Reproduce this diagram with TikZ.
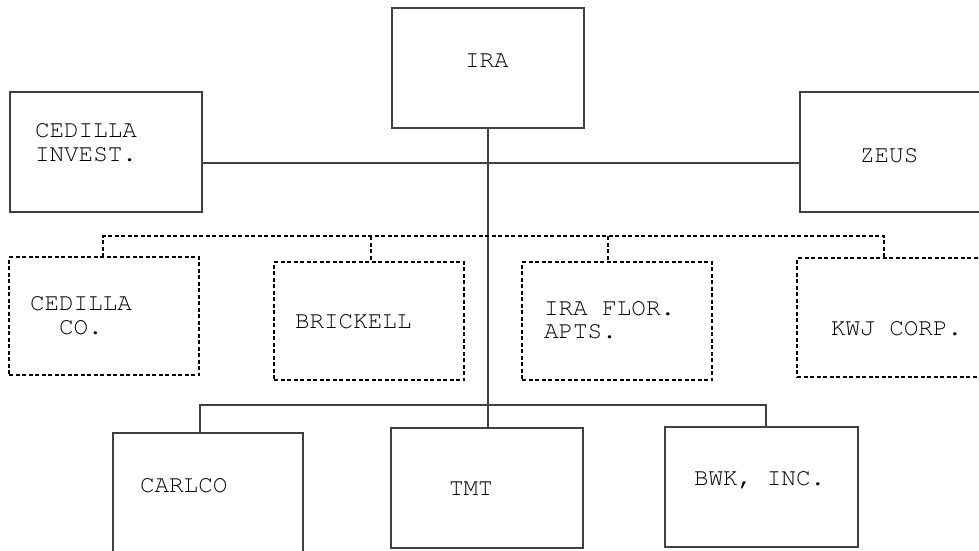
\documentclass[tikz,border=0pt]{standalone}
\usepackage[T1]{fontenc}
\begin{document}
\begin{tikzpicture}[x=1pt,y=-1pt,
  box/.style={draw=black!75,line width=1.2pt,inner sep=0pt,outer sep=0pt},
  dbox/.style={draw=black,line width=1.6pt,dash pattern=on 4pt off 2.5pt,inner sep=0pt,outer sep=0pt},
  link/.style={draw=black!75,line width=1.2pt},
  dlink/.style={draw=black,line width=1.6pt,dash pattern=on 4pt off 2.5pt},
  lbl/.style={anchor=base west,inner sep=0pt,outer sep=0pt,
    font=\fontfamily{pcr}\fontsize{24.3}{24}\selectfont}]
\useasboundingbox (0,0) rectangle (979,551);
\clip (0,0) rectangle (979,551);

% top level
\node[box,minimum width=192pt,minimum height=120pt] (ira)  at (488,68)  {};
\node[box,minimum width=192pt,minimum height=120pt] (inv)  at (106,152) {};
\node[box,minimum width=192pt,minimum height=120pt] (zeus) at (896,152) {};

% dashed affiliates
\node[dbox,minimum width=190pt,minimum height=118pt] (cco) at (104,316) {};
\node[dbox,minimum width=190pt,minimum height=118pt] (bri) at (369,321) {};
\node[dbox,minimum width=190pt,minimum height=118pt] (flo) at (617,321) {};
\node[dbox,minimum width=190pt,minimum height=119pt] (kwj) at (892,317.5) {};

% subsidiaries
\node[box,minimum width=190pt,minimum height=120pt] (carl) at (208,493) {};
\node[box,minimum width=192pt,minimum height=120pt] (tmt)  at (487,488) {};
\node[box,minimum width=193pt,minimum height=120pt] (bwk)  at (761.5,487) {};

% junction points
\coordinate (mid) at (488,163);
\coordinate (dl) at (103,236);
\coordinate (d2) at (371,236);
\coordinate (d3) at (608,236);
\coordinate (dr) at (884,236);
\coordinate (bl) at (200,405);
\coordinate (br) at (766,405);

% solid connectors
\draw[link] (inv.east |- mid) -- (zeus.west |- mid);
\draw[link] (ira.south) -- (ira.south |- tmt.north);
\draw[link] (bl |- carl.north) -- (bl) -- (br) -- (br |- bwk.north);

% dashed connectors
\draw[dlink] (dl |- cco.north) -- (dl) -- (dr) -- (dr |- kwj.north);
\draw[dlink] (d2) -- (d2 |- bri.north);
\draw[dlink] (d3) -- (d3 |- flo.north);

% labels
\node[lbl] (tira)  at (465,67)  {IRA};
\node[lbl] (tinv1) at (35,137)  {CEDILLA};
\node[lbl] (tinv2) at (35,161)  {INVEST.};
\node[lbl] (tzeus) at (860,162) {ZEUS};
\node[lbl] (tcco1) at (30,310)  {CEDILLA};
\node[lbl] (tcco2) at (59,334)  {CO.};
\node[lbl] (tbri)  at (295,328) {BRICKELL};
\node[lbl] (tflo1) at (544,315) {IRA FLOR.};
\node[lbl] (tflo2) at (544,338) {APTS.};
\node[lbl] (tkwj)  at (831,335) {KWJ CORP.};
\node[lbl] (tcarl) at (140,492) {CARLCO};
\node[lbl] (ttmt)  at (449,495) {TMT};
\node[lbl] (tbwk)  at (694,485) {BWK, INC.};
\end{tikzpicture}
\end{document}
